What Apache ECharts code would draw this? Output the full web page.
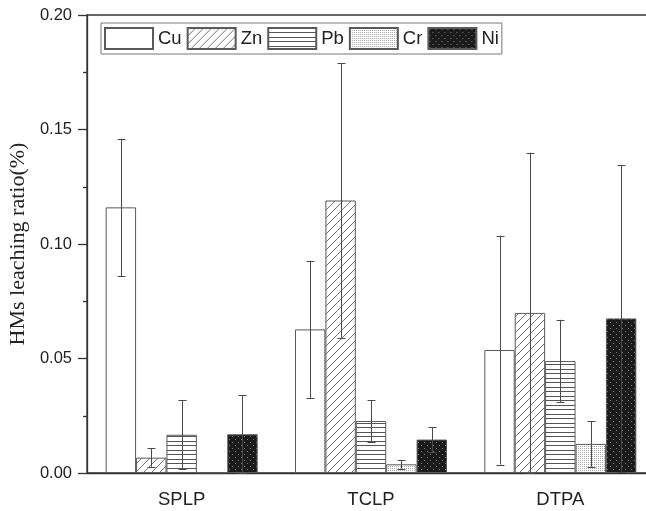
<!DOCTYPE html>
<html>
<head>
<meta charset="utf-8">
<script src="https://cdn.jsdelivr.net/npm/echarts@6/dist/echarts.min.js"></script>
<style>html,body{margin:0;padding:0;background:#fff}#c{width:646px;height:511px}</style>
</head>
<body>
<div id="c"></div>
<script>
// ---- data ----
var categories = ['SPLP', 'TCLP', 'DTPA'];
var metals = ['Cu', 'Zn', 'Pb', 'Cr', 'Ni'];
var cuVals = [0.116, 0.0627, 0.0537];
var znVals = [0.0067, 0.119, 0.0699];
var pbVals = [0.0167, 0.0227, 0.0489];
var crVals = [0.0003, 0.0038, 0.0127];
var niVals = [0.0169, 0.0146, 0.0675];
var cuErr = [0.030, 0.030, 0.050];
var znErr = [0.004, 0.060, 0.070];
var pbErr = [0.015, 0.009, 0.018];
var crErr = [0.0, 0.0019, 0.010];
var niErr = [0.017, 0.0054, 0.067];
var yTicks = [0, 0.05, 0.10, 0.15, 0.20];

var values = [cuVals, znVals, pbVals, crVals, niVals];
var errors = [cuErr, znErr, pbErr, crErr, niErr];

// ---- patterns ----
function tile(w, h, draw) {
  var c = document.createElement('canvas');
  c.width = w; c.height = h;
  var ctx = c.getContext('2d');
  draw(ctx, w, h);
  return { image: c, repeat: 'repeat' };
}
var fills = [
  '#ffffff',
  tile(8, 8, function (ctx) {
    ctx.fillStyle = '#fff'; ctx.fillRect(0, 0, 8, 8);
    ctx.strokeStyle = '#666'; ctx.lineWidth = 0.9;
    ctx.beginPath();
    ctx.moveTo(-1, 9); ctx.lineTo(9, -1);
    ctx.moveTo(-1, 1); ctx.lineTo(1, -1);
    ctx.moveTo(7, 9); ctx.lineTo(9, 7);
    ctx.stroke();
  }),
  tile(8, 9, function (ctx) {
    ctx.fillStyle = '#fff'; ctx.fillRect(0, 0, 8, 9);
    ctx.fillStyle = '#555';
    ctx.fillRect(0, 0, 8, 1);
    ctx.fillRect(0, 4, 8, 1);
  }),
  tile(2, 2, function (ctx) {
    ctx.fillStyle = '#fff'; ctx.fillRect(0, 0, 2, 2);
    ctx.fillStyle = '#aaa'; ctx.fillRect(0, 0, 1, 1);
  }),
  tile(6, 6, function (ctx) {
    ctx.fillStyle = '#1b1b1b'; ctx.fillRect(0, 0, 6, 6);
    ctx.fillStyle = '#7a7a7a';
    ctx.fillRect(1, 1, 1, 1);
    ctx.fillRect(4, 4, 1, 1);
  })
];

var BAR_W = 30.4;

var series = metals.map(function (m, i) {
  return {
    name: m,
    type: 'bar',
    xAxisIndex: 0,
    barWidth: BAR_W,
    barGap: '0%',
    data: values[i],
    itemStyle: { color: fills[i], borderColor: '#5a5a5a', borderWidth: 1 },
    emphasis: { disabled: true },
    z: 2
  };
});

var errData = [];
metals.forEach(function (m, i) {
  categories.forEach(function (c, k) {
    if (errors[i][k] > 0) {
      errData.push([k, values[i][k] - errors[i][k], values[i][k] + errors[i][k], i]);
    }
  });
});

series.push({
  name: 'err',
  type: 'custom',
  xAxisIndex: 0,
  z: 5,
  silent: true,
  clip: false,
  encode: { x: 0, y: [1, 2] },
  data: errData,
  renderItem: function (params, api) {
    var k = api.value(0), lo = api.value(1), hi = api.value(2), j = api.value(3);
    var pLo = api.coord([k, lo]);
    var pHi = api.coord([k, hi]);
    var x = Math.round(pLo[0] + (j - 2) * BAR_W) + 0.5;
    var cap = 4;
    var st = { stroke: '#4a4a4a', lineWidth: 1 };
    return {
      type: 'group',
      children: [
        { type: 'line', shape: { x1: x, y1: pLo[1], x2: x, y2: pHi[1] }, style: st },
        { type: 'line', shape: { x1: x - cap, y1: Math.round(pLo[1]) + 0.5, x2: x + cap, y2: Math.round(pLo[1]) + 0.5 }, style: st },
        { type: 'line', shape: { x1: x - cap, y1: Math.round(pHi[1]) + 0.5, x2: x + cap, y2: Math.round(pHi[1]) + 0.5 }, style: st }
      ]
    };
  }
});

var chart = echarts.init(document.getElementById('c'), null, { renderer: 'canvas' });
chart.setOption({
  animation: false,
  backgroundColor: '#fff',
  grid: { left: 87, top: 15, width: 568, height: 458, outerBoundsMode: 'none', containLabel: false, show: true, borderColor: '#333', borderWidth: 1.3, backgroundColor: 'transparent' },
  legend: {
    data: metals,
    left: 101, top: 23,
    orient: 'horizontal',
    icon: 'rect',
    itemWidth: 48, itemHeight: 21, itemGap: 5,
    padding: [4, 3, 4, 3],
    borderColor: '#777', borderWidth: 1,
    backgroundColor: '#fff',
    textStyle: { fontFamily: 'Liberation Sans', fontSize: 18.5, color: '#222', lineHeight: 21 },
    selectedMode: false
  },
  xAxis: [{
    type: 'category',
    data: categories,
    position: 'bottom',
    boundaryGap: true,
    axisLine: { lineStyle: { color: '#333', width: 1.3 } },
    axisTick: { alignWithLabel: true, length: 9, inside: false, lineStyle: { color: '#333', width: 1.3 } },
    axisLabel: { fontFamily: 'Liberation Sans', fontSize: 18.5, color: '#222', margin: 17 }
  }, {
    type: 'category',
    data: categories,
    position: 'bottom',
    boundaryGap: true,
    axisLine: { show: false },
    axisTick: { length: 4, inside: false, lineStyle: { color: '#333', width: 1.3 } },
    axisLabel: { show: false }
  }],
  yAxis: {
    type: 'value',
    position: 'left',
    min: yTicks[0], max: yTicks[yTicks.length - 1], interval: 0.05,
    name: 'HMs leaching ratio(%)',
    nameLocation: 'middle',
    nameGap: 55,
    nameRotate: 90,
    nameTextStyle: { fontFamily: 'Liberation Serif', fontSize: 22, color: '#222' },
    axisLine: { show: true, lineStyle: { color: '#333', width: 1.3 } },
    axisTick: { show: true, inside: false, length: 9, lineStyle: { color: '#333', width: 1.3 } },
    minorTick: { show: true, splitNumber: 2, length: 4, lineStyle: { color: '#333', width: 1.3 } },
    splitLine: { show: false },
    axisLabel: { fontFamily: 'Liberation Sans', fontSize: 16.5, color: '#222', margin: 15, formatter: function (v) { return v.toFixed(2); } }
  },
  series: series
});
</script>
</body>
</html>
